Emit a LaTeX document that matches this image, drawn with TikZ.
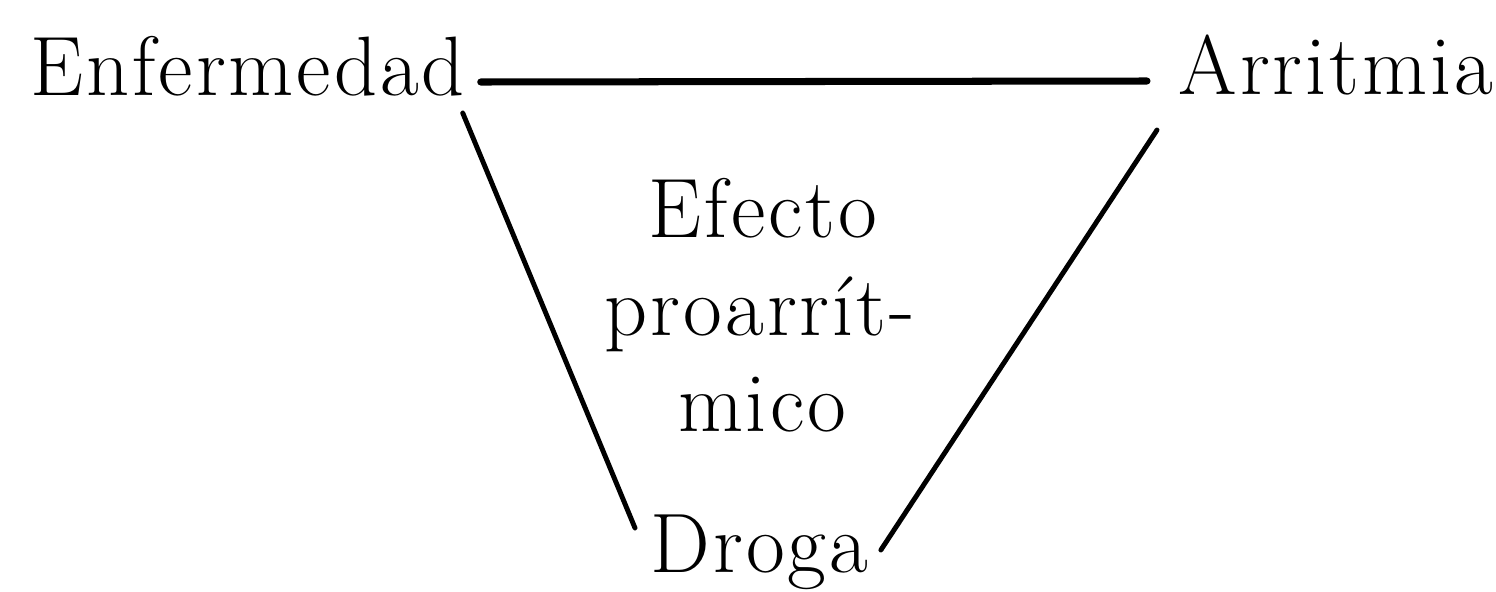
\documentclass[tikz,border=0pt]{standalone}
\usepackage{fontspec}
\setmainfont{Latin Modern Roman}[LetterSpace=3.5]
\usepackage{tikz}
\begin{document}
\begin{tikzpicture}[lbl/.style={inner sep=0pt,anchor=base,font=\fontsize{24}{29}\selectfont},
  link/.style={line width=1.4pt,line cap=round}]
  \useasboundingbox (0,0) rectangle (14.96,5.91);
  \node[lbl,anchor=base west] (enf) at (0.30,4.96) {Enfermedad};
  \node[lbl,anchor=base west] (arr) at (11.78,4.97) {Arritmia};
  \node[lbl,anchor=base west] (dro) at (6.50,0.19) {Droga};
  \node[lbl] (ef1) at (7.63,3.54) {Efecto};
  \node[lbl] (ef2) at (7.60,2.56) {proarrít-};
  \node[lbl] (ef3) at (7.62,1.60) {mico};
  \draw[link,line width=2pt] ([xshift=0.15cm,yshift=0.13cm]enf.base east) -- ([xshift=-0.31cm,yshift=0.13cm]arr.base west);
  \draw[link] ([xshift=-0.03cm,yshift=-0.18cm]enf.base east) -- ([xshift=-0.15cm,yshift=0.44cm]dro.base west);
  \draw[link] ([xshift=-0.21cm,yshift=-0.36cm]arr.base west) -- ([xshift=0.12cm,yshift=0.22cm]dro.base east);
\end{tikzpicture}
\end{document}
